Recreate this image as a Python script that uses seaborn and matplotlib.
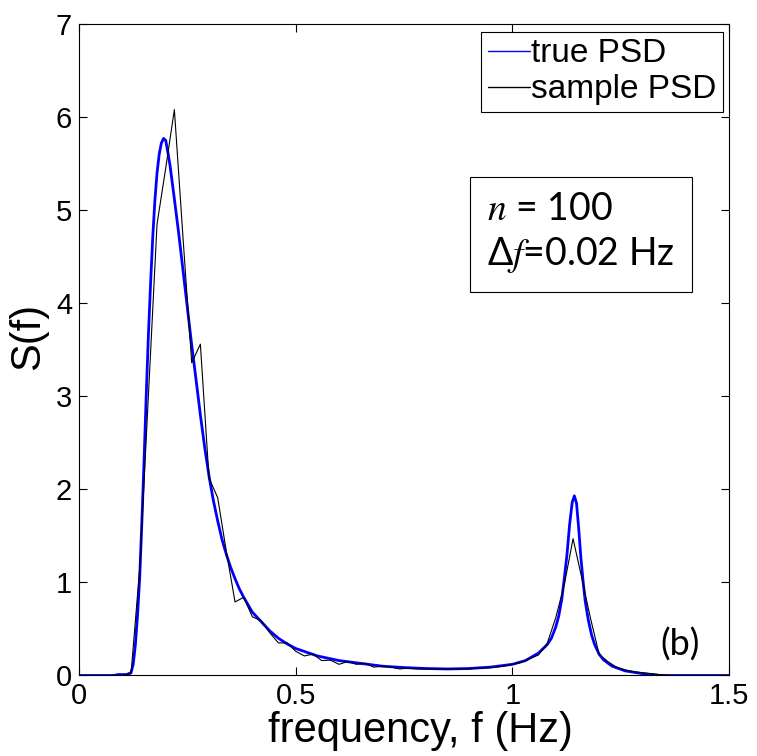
import numpy as np
import pandas as pd
import matplotlib
matplotlib.use("Agg")
import matplotlib.pyplot as plt
import seaborn as sns

# true PSD
f_true = [0.00, 0.08, 0.09, 0.11, 0.12, 0.125, 0.13, 0.135, 0.14, 0.145, 0.15, 0.155,
          0.16, 0.165, 0.17, 0.175, 0.18, 0.185, 0.19, 0.195, 0.20, 0.205, 0.21, 0.22,
          0.23, 0.24, 0.25, 0.26, 0.27, 0.28, 0.29, 0.30, 0.31, 0.32, 0.33, 0.34, 0.35,
          0.36, 0.37, 0.38, 0.39, 0.40, 0.42, 0.44, 0.46, 0.48, 0.50, 0.55, 0.60, 0.65,
          0.70, 0.75, 0.80, 0.85, 0.90, 0.95, 1.00, 1.03, 1.06, 1.08, 1.09, 1.10, 1.107,
          1.114, 1.12, 1.126, 1.132, 1.138, 1.143, 1.148, 1.153, 1.158, 1.163, 1.168,
          1.175, 1.183, 1.19, 1.20, 1.21, 1.23, 1.26, 1.30, 1.34, 1.50]
s_true = [0.0, 0.0, 0.01, 0.01, 0.03, 0.12, 0.33, 0.65, 1.05, 1.65, 2.3, 3.0,
          3.65, 4.2, 4.7, 5.1, 5.4, 5.6, 5.72, 5.77, 5.75, 5.62, 5.48, 5.12,
          4.75, 4.35, 3.95, 3.55, 3.18, 2.80, 2.45, 2.14, 1.88, 1.66, 1.46, 1.30, 1.16,
          1.04, 0.93, 0.84, 0.76, 0.68, 0.58, 0.48, 0.40, 0.34, 0.29, 0.21, 0.16, 0.13,
          0.10, 0.085, 0.075, 0.07, 0.075, 0.09, 0.12, 0.16, 0.24, 0.33, 0.40, 0.52, 0.64,
          0.82, 1.05, 1.30, 1.62, 1.86, 1.93, 1.85, 1.58, 1.27, 1.02, 0.80,
          0.60, 0.43, 0.33, 0.23, 0.17, 0.10, 0.05, 0.02, 0.0, 0.0]

# sample PSD, df = 0.02 Hz
f_sample = [round(0.02 * i, 2) for i in range(76)]
s_sample = [0, 0, 0, 0, 0, 0, 0.02, 1.15, 3.0, 4.85,
            5.45, 6.08, 4.70, 3.36, 3.56, 2.12, 1.91, 1.33, 0.79, 0.84,
            0.63, 0.59, 0.46, 0.35, 0.35, 0.26, 0.21, 0.23, 0.16, 0.165,
            0.12, 0.15, 0.12, 0.13, 0.09, 0.10, 0.09, 0.07, 0.08, 0.07,
            0.07, 0.07, 0.07, 0.07, 0.07, 0.07, 0.08, 0.08, 0.09, 0.10,
            0.12, 0.14, 0.18, 0.22, 0.34, 0.62, 0.98, 1.47, 1.05, 0.62,
            0.23, 0.15, 0.09, 0.06, 0.04, 0.03, 0.02, 0.01, 0, 0,
            0, 0, 0, 0, 0, 0]

sns.set_style("white")
plt.rcParams["font.family"] = ["Liberation Sans", "DejaVu Sans"]
plt.rcParams["mathtext.fontset"] = "stix"
plt.rcParams["text.color"] = "black"
plt.rcParams["axes.labelcolor"] = "black"
plt.rcParams["xtick.color"] = "black"
plt.rcParams["ytick.color"] = "black"

fig = plt.figure(figsize=(7.57, 7.56), dpi=100)
ax = fig.add_axes([0.1044, 0.1065, 0.8587, 0.8618])

sns.lineplot(x=f_true, y=s_true, ax=ax, color="blue", lw=2, label="true PSD",
             estimator=None, sort=False)
sns.lineplot(x=f_sample, y=s_sample, ax=ax, color="black", lw=0.8, label="sample PSD",
             estimator=None, sort=False)

ax.set_xlim(0, 1.5)
ax.set_ylim(0, 7)
ax.set_xticks([0, 0.5, 1, 1.5])
ax.set_xticklabels(["0", "0.5", "1", "1.5"])
ax.set_yticks(range(8))
ax.tick_params(direction="in", length=6, width=0.8, labelsize=21, top=True, right=True,
               bottom=True, left=True, pad=5)
for sp in ax.spines.values():
    sp.set_color("black")
    sp.set_linewidth(0.8)
ax.set_xlabel("frequency, f (Hz)", fontsize=30)
ax.xaxis.set_label_coords(0.525, -0.055)
ax.set_ylabel("S(f)", fontsize=30)
ax.yaxis.set_label_coords(-0.047, 0.521)

leg = ax.legend(loc="upper right", bbox_to_anchor=(0.991, 0.988), fontsize=24,
                handlelength=1.25, handletextpad=0.05, borderpad=0.2, labelspacing=0.15,
                borderaxespad=0, fancybox=False, framealpha=1)
leg.get_frame().set_edgecolor("black")
leg.get_frame().set_linewidth(0.8)
for h in leg.get_lines():
    h.set_linewidth(1)

ax.text(0.628, 0.679, "$n$ = 100\nΔ$f$=0.02 Hz", transform=ax.transAxes, fontsize=27,
        family=["Lato", "DejaVu Sans"], va="center", ha="left", linespacing=1.25,
        bbox=dict(boxstyle="square,pad=0.45", fc="white", ec="black", lw=0.8))
ax.text(0.925, 0.047, "(b)", transform=ax.transAxes, fontsize=26,
        family=["Lato", "DejaVu Sans"], va="center", ha="center")

fig.savefig("out.png", dpi=100)
